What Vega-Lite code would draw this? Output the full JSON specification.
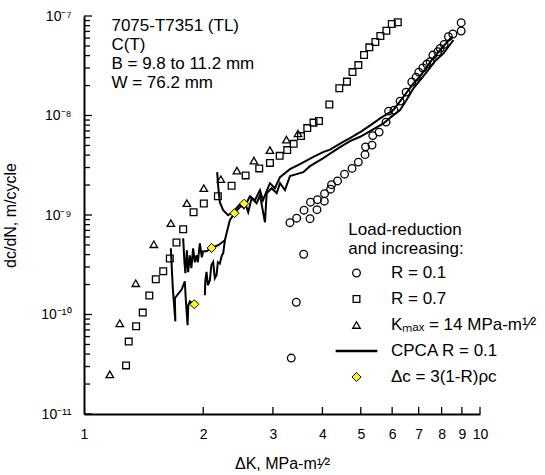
{
  "$schema": "https://vega.github.io/schema/vega-lite/v6.json",
  "width": 396,
  "height": 398,
  "autosize": {"type": "none"},
  "padding": {"left": 84, "top": 16, "right": 65, "bottom": 61},
  "background": "white",
  "config": {
    "view": {"stroke": null},
    "font": "Liberation Sans",
    "axis": {
      "domainColor": "black", "domainWidth": 2,
      "labelColor": "black", "titleColor": "black", "titleFontWeight": "normal",
      "labelFont": "Liberation Sans", "titleFont": "Liberation Sans",
      "labelFontSize": 14, "titleFontSize": 16, "grid": false, "ticks": false
    },
    "legend": {
      "orient": "none", "legendX": 264, "legendY": 248.5, "title": null,
      "labelFontSize": 17, "labelFont": "Liberation Sans", "labelColor": "black",
      "labelOffset": 26, "rowPadding": 8, "padding": 0, "labelLimit": 300
    }
  },
  "datasets": {
    "xticks": [
      {"dk": 2}, {"dk": 3}, {"dk": 4}, {"dk": 5}, {"dk": 6}, {"dk": 7}, {"dk": 8}, {"dk": 9}, {"dk": 10}
    ],
    "ymajor": [
      {"rate": 1e-11}, {"rate": 1e-10}, {"rate": 1e-9}, {"rate": 1e-8}, {"rate": 1e-7}
    ],
    "yminor": [
      {"rate": 2e-11}, {"rate": 3e-11}, {"rate": 4e-11}, {"rate": 5e-11}, {"rate": 6e-11}, {"rate": 7e-11}, {"rate": 8e-11}, {"rate": 9e-11},
      {"rate": 2e-10}, {"rate": 3e-10}, {"rate": 4e-10}, {"rate": 5e-10}, {"rate": 6e-10}, {"rate": 7e-10}, {"rate": 8e-10}, {"rate": 9e-10},
      {"rate": 2e-9}, {"rate": 3e-9}, {"rate": 4e-9}, {"rate": 5e-9}, {"rate": 6e-9}, {"rate": 7e-9}, {"rate": 8e-9}, {"rate": 9e-9},
      {"rate": 2e-8}, {"rate": 3e-8}, {"rate": 4e-8}, {"rate": 5e-8}, {"rate": 6e-8}, {"rate": 7e-8}, {"rate": 8e-8}, {"rate": 9e-8}
    ],
    "pts": [
      {"series": "R = 0.1", "dk": 3.337, "rate": 3.65e-11},
      {"series": "R = 0.1", "dk": 3.436, "rate": 1.327e-10},
      {"series": "R = 0.1", "dk": 3.587, "rate": 4.03e-10},
      {"series": "R = 0.1", "dk": 3.312, "rate": 8.37e-10},
      {"series": "R = 0.1", "dk": 3.444, "rate": 9.29e-10},
      {"series": "R = 0.1", "dk": 3.594, "rate": 1.118e-9},
      {"series": "R = 0.1", "dk": 3.722, "rate": 9.18e-10},
      {"series": "R = 0.1", "dk": 3.732, "rate": 1.345e-9},
      {"series": "R = 0.1", "dk": 3.876, "rate": 1.131e-9},
      {"series": "R = 0.1", "dk": 3.887, "rate": 1.425e-9},
      {"series": "R = 0.1", "dk": 4.045, "rate": 1.376e-9},
      {"series": "R = 0.1", "dk": 4.05, "rate": 1.638e-9},
      {"series": "R = 0.1", "dk": 4.194, "rate": 1.818e-9},
      {"series": "R = 0.1", "dk": 4.218, "rate": 2.017e-9},
      {"series": "R = 0.1", "dk": 4.368, "rate": 2.2e-9},
      {"series": "R = 0.1", "dk": 4.549, "rate": 2.57e-9},
      {"series": "R = 0.1", "dk": 4.752, "rate": 2.94e-9},
      {"series": "R = 0.1", "dk": 4.929, "rate": 3.4e-9},
      {"series": "R = 0.1", "dk": 5.125, "rate": 4.04e-9},
      {"series": "R = 0.1", "dk": 5.14, "rate": 4.84e-9},
      {"series": "R = 0.1", "dk": 5.338, "rate": 5.04e-9},
      {"series": "R = 0.1", "dk": 5.36, "rate": 6.28e-9},
      {"series": "R = 0.1", "dk": 5.562, "rate": 6.81e-9},
      {"series": "R = 0.1", "dk": 5.791, "rate": 8.58e-9},
      {"series": "R = 0.1", "dk": 5.877, "rate": 1.107e-8},
      {"series": "R = 0.1", "dk": 6.067, "rate": 1.133e-8},
      {"series": "R = 0.1", "dk": 6.284, "rate": 1.396e-8},
      {"series": "R = 0.1", "dk": 6.508, "rate": 1.719e-8},
      {"series": "R = 0.1", "dk": 6.727, "rate": 2.17e-8},
      {"series": "R = 0.1", "dk": 6.898, "rate": 2.43e-8},
      {"series": "R = 0.1", "dk": 7.007, "rate": 2.73e-8},
      {"series": "R = 0.1", "dk": 7.172, "rate": 3.0e-8},
      {"series": "R = 0.1", "dk": 7.341, "rate": 3.29e-8},
      {"series": "R = 0.1", "dk": 7.484, "rate": 3.47e-8},
      {"series": "R = 0.1", "dk": 7.602, "rate": 4.05e-8},
      {"series": "R = 0.1", "dk": 7.827, "rate": 4.37e-8},
      {"series": "R = 0.1", "dk": 7.932, "rate": 4.73e-8},
      {"series": "R = 0.1", "dk": 8.119, "rate": 5.19e-8},
      {"series": "R = 0.1", "dk": 8.325, "rate": 6.19e-8},
      {"series": "R = 0.1", "dk": 8.54, "rate": 6.59e-8},
      {"series": "R = 0.1", "dk": 8.963, "rate": 7.07e-8},
      {"series": "R = 0.1", "dk": 8.963, "rate": 8.56e-8},
      {"series": "R = 0.7", "dk": 1.277, "rate": 3.08e-11},
      {"series": "R = 0.7", "dk": 1.297, "rate": 5.34e-11},
      {"series": "R = 0.7", "dk": 1.354, "rate": 7.61e-11},
      {"series": "R = 0.7", "dk": 1.407, "rate": 1.045e-10},
      {"series": "R = 0.7", "dk": 1.462, "rate": 1.55e-10},
      {"series": "R = 0.7", "dk": 1.518, "rate": 2.26e-10},
      {"series": "R = 0.7", "dk": 1.585, "rate": 2.72e-10},
      {"series": "R = 0.7", "dk": 1.647, "rate": 3.65e-10},
      {"series": "R = 0.7", "dk": 1.712, "rate": 5.29e-10},
      {"series": "R = 0.7", "dk": 1.78, "rate": 7.2e-10},
      {"series": "R = 0.7", "dk": 1.891, "rate": 1.067e-9},
      {"series": "R = 0.7", "dk": 2.007, "rate": 1.305e-9},
      {"series": "R = 0.7", "dk": 2.178, "rate": 1.545e-9},
      {"series": "R = 0.7", "dk": 2.359, "rate": 1.97e-9},
      {"series": "R = 0.7", "dk": 2.559, "rate": 2.5e-9},
      {"series": "R = 0.7", "dk": 2.77, "rate": 2.94e-9},
      {"series": "R = 0.7", "dk": 2.948, "rate": 3.34e-9},
      {"series": "R = 0.7", "dk": 3.12, "rate": 3.93e-9},
      {"series": "R = 0.7", "dk": 3.26, "rate": 4.49e-9},
      {"series": "R = 0.7", "dk": 3.384, "rate": 5.19e-9},
      {"series": "R = 0.7", "dk": 3.531, "rate": 6.21e-9},
      {"series": "R = 0.7", "dk": 3.663, "rate": 7.47e-9},
      {"series": "R = 0.7", "dk": 3.798, "rate": 8.48e-9},
      {"series": "R = 0.7", "dk": 3.921, "rate": 8.82e-9},
      {"series": "R = 0.7", "dk": 4.165, "rate": 1.288e-8},
      {"series": "R = 0.7", "dk": 4.413, "rate": 1.878e-8},
      {"series": "R = 0.7", "dk": 4.613, "rate": 2.19e-8},
      {"series": "R = 0.7", "dk": 4.765, "rate": 2.73e-8},
      {"series": "R = 0.7", "dk": 4.929, "rate": 3.21e-8},
      {"series": "R = 0.7", "dk": 5.095, "rate": 4.05e-8},
      {"series": "R = 0.7", "dk": 5.255, "rate": 4.84e-8},
      {"series": "R = 0.7", "dk": 5.442, "rate": 5.48e-8},
      {"series": "R = 0.7", "dk": 5.603, "rate": 6.29e-8},
      {"series": "R = 0.7", "dk": 5.802, "rate": 7.11e-8},
      {"series": "R = 0.7", "dk": 5.987, "rate": 8.31e-8},
      {"series": "R = 0.7", "dk": 6.2, "rate": 8.64e-8},
      {"series": "Kₘₐₓ = 14 MPa-m¹⁄²", "dk": 1.162, "rate": 2.5e-11},
      {"series": "Kₘₐₓ = 14 MPa-m¹⁄²", "dk": 1.231, "rate": 8.16e-11},
      {"series": "Kₘₐₓ = 14 MPa-m¹⁄²", "dk": 1.351, "rate": 2.06e-10},
      {"series": "Kₘₐₓ = 14 MPa-m¹⁄²", "dk": 1.501, "rate": 5.08e-10},
      {"series": "Kₘₐₓ = 14 MPa-m¹⁄²", "dk": 1.657, "rate": 8.27e-10},
      {"series": "Kₘₐₓ = 14 MPa-m¹⁄²", "dk": 1.819, "rate": 1.315e-9},
      {"series": "Kₘₐₓ = 14 MPa-m¹⁄²", "dk": 2.007, "rate": 1.86e-9},
      {"series": "Kₘₐₓ = 14 MPa-m¹⁄²", "dk": 2.216, "rate": 2.29e-9},
      {"series": "Kₘₐₓ = 14 MPa-m¹⁄²", "dk": 2.433, "rate": 2.79e-9},
      {"series": "Kₘₐₓ = 14 MPa-m¹⁄²", "dk": 2.686, "rate": 3.52e-9},
      {"series": "Kₘₐₓ = 14 MPa-m¹⁄²", "dk": 2.948, "rate": 4.49e-9},
      {"series": "Kₘₐₓ = 14 MPa-m¹⁄²", "dk": 3.245, "rate": 5.72e-9},
      {"series": "Kₘₐₓ = 14 MPa-m¹⁄²", "dk": 3.47, "rate": 6.6e-9},
      {"series": "Δc = 3(1-R)ρc", "dk": 1.899, "rate": 1.267e-10},
      {"series": "Δc = 3(1-R)ρc", "dk": 2.1, "rate": 4.67e-10},
      {"series": "Δc = 3(1-R)ρc", "dk": 2.398, "rate": 1.042e-9},
      {"series": "Δc = 3(1-R)ρc", "dk": 2.537, "rate": 1.299e-9}
    ],
    "cpca": [
      {"seg": "A", "i": 0, "dk": 1.657, "rate": 4.63e-10},
      {"seg": "A", "i": 1, "dk": 1.667, "rate": 2.785e-10},
      {"seg": "A", "i": 2, "dk": 1.676, "rate": 1.835e-10},
      {"seg": "A", "i": 3, "dk": 1.691, "rate": 1.154e-10},
      {"seg": "A", "i": 4, "dk": 1.701, "rate": 8.54e-11},
      {"seg": "A", "i": 5, "dk": 1.696, "rate": 1.456e-10},
      {"seg": "A", "i": 6, "dk": 1.725, "rate": 1.596e-10},
      {"seg": "A", "i": 7, "dk": 1.766, "rate": 1.793e-10},
      {"seg": "A", "i": 8, "dk": 1.797, "rate": 2.158e-10},
      {"seg": "A", "i": 9, "dk": 1.808, "rate": 1.39e-10},
      {"seg": "A", "i": 10, "dk": 1.826, "rate": 7.79e-11},
      {"seg": "A", "i": 11, "dk": 1.834, "rate": 1.238e-10},
      {"seg": "A", "i": 12, "dk": 1.851, "rate": 1.358e-10},
      {"seg": "A", "i": 13, "dk": 1.894, "rate": 1.267e-10},
      {"seg": "B", "i": 0, "dk": 1.78, "rate": 5.84e-10},
      {"seg": "B", "i": 1, "dk": 1.792, "rate": 3.51e-10},
      {"seg": "B", "i": 2, "dk": 1.803, "rate": 2.6e-10},
      {"seg": "B", "i": 3, "dk": 1.819, "rate": 4.42e-10},
      {"seg": "B", "i": 4, "dk": 1.832, "rate": 2.66e-10},
      {"seg": "B", "i": 5, "dk": 1.851, "rate": 3.94e-10},
      {"seg": "B", "i": 6, "dk": 1.867, "rate": 2.92e-10},
      {"seg": "B", "i": 7, "dk": 1.886, "rate": 4.63e-10},
      {"seg": "B", "i": 8, "dk": 1.905, "rate": 3.35e-10},
      {"seg": "B", "i": 9, "dk": 1.924, "rate": 3.94e-10},
      {"seg": "B", "i": 10, "dk": 1.939, "rate": 3.35e-10},
      {"seg": "B", "i": 11, "dk": 1.961, "rate": 5.2e-10},
      {"seg": "B", "i": 12, "dk": 1.984, "rate": 3.76e-10},
      {"seg": "B", "i": 13, "dk": 1.999, "rate": 4.32e-10},
      {"seg": "B", "i": 14, "dk": 2.039, "rate": 4.32e-10},
      {"seg": "B", "i": 15, "dk": 2.1, "rate": 4.67e-10},
      {"seg": "B", "i": 16, "dk": 2.183, "rate": 4.97e-10},
      {"seg": "B", "i": 17, "dk": 2.269, "rate": 5.58e-10},
      {"seg": "B", "i": 18, "dk": 2.291, "rate": 6.56e-10},
      {"seg": "B", "i": 19, "dk": 2.335, "rate": 8.87e-10},
      {"seg": "B", "i": 20, "dk": 2.398, "rate": 1.042e-9},
      {"seg": "B", "i": 21, "dk": 2.476, "rate": 1.198e-9},
      {"seg": "B", "i": 22, "dk": 2.549, "rate": 1.345e-9},
      {"seg": "B", "i": 23, "dk": 2.598, "rate": 1.067e-9},
      {"seg": "B", "i": 24, "dk": 2.65, "rate": 1.476e-9},
      {"seg": "B", "i": 25, "dk": 2.729, "rate": 1.314e-9},
      {"seg": "B", "i": 26, "dk": 2.782, "rate": 1.582e-9},
      {"seg": "B", "i": 27, "dk": 2.864, "rate": 8.46e-10},
      {"seg": "B", "i": 28, "dk": 2.893, "rate": 1.657e-9},
      {"seg": "B", "i": 29, "dk": 2.978, "rate": 1.86e-9},
      {"seg": "B", "i": 30, "dk": 3.066, "rate": 1.657e-9},
      {"seg": "B", "i": 31, "dk": 3.126, "rate": 2.089e-9},
      {"seg": "B", "i": 32, "dk": 3.217, "rate": 1.777e-9},
      {"seg": "B", "i": 33, "dk": 3.312, "rate": 2.457e-9},
      {"seg": "B", "i": 34, "dk": 3.444, "rate": 2.573e-9},
      {"seg": "B", "i": 35, "dk": 3.579, "rate": 2.695e-9},
      {"seg": "B", "i": 36, "dk": 3.722, "rate": 3.096e-9},
      {"seg": "B", "i": 37, "dk": 3.869, "rate": 3.4e-9},
      {"seg": "B", "i": 38, "dk": 4.022, "rate": 3.73e-9},
      {"seg": "B", "i": 39, "dk": 4.181, "rate": 4.136e-9},
      {"seg": "B", "i": 40, "dk": 4.432, "rate": 4.81e-9},
      {"seg": "B", "i": 41, "dk": 4.697, "rate": 5.53e-9},
      {"seg": "B", "i": 42, "dk": 4.98, "rate": 6.11e-9},
      {"seg": "B", "i": 43, "dk": 5.279, "rate": 6.97e-9},
      {"seg": "B", "i": 44, "dk": 5.702, "rate": 8.33e-9},
      {"seg": "B", "i": 45, "dk": 5.998, "rate": 9.86e-9},
      {"seg": "B", "i": 46, "dk": 6.284, "rate": 1.133e-8},
      {"seg": "B", "i": 47, "dk": 6.546, "rate": 1.462e-8},
      {"seg": "B", "i": 48, "dk": 6.79, "rate": 1.874e-8},
      {"seg": "B", "i": 49, "dk": 7.061, "rate": 2.27e-8},
      {"seg": "B", "i": 50, "dk": 7.341, "rate": 2.75e-8},
      {"seg": "B", "i": 51, "dk": 7.704, "rate": 3.53e-8},
      {"seg": "B", "i": 52, "dk": 8.087, "rate": 4.21e-8},
      {"seg": "B", "i": 53, "dk": 8.57, "rate": 5.74e-8},
      {"seg": "C", "i": 0, "dk": 2.019, "rate": 1.56e-10},
      {"seg": "C", "i": 1, "dk": 2.025, "rate": 2.21e-10},
      {"seg": "C", "i": 2, "dk": 2.039, "rate": 2.68e-10},
      {"seg": "C", "i": 3, "dk": 2.055, "rate": 1.967e-10},
      {"seg": "C", "i": 4, "dk": 2.079, "rate": 2.21e-10},
      {"seg": "C", "i": 5, "dk": 2.097, "rate": 3.13e-10},
      {"seg": "C", "i": 6, "dk": 2.119, "rate": 3.37e-10},
      {"seg": "C", "i": 7, "dk": 2.14, "rate": 2.31e-10},
      {"seg": "C", "i": 8, "dk": 2.161, "rate": 2.48e-10},
      {"seg": "C", "i": 9, "dk": 2.178, "rate": 3.35e-10},
      {"seg": "C", "i": 10, "dk": 2.203, "rate": 3.25e-10},
      {"seg": "C", "i": 11, "dk": 2.229, "rate": 3.94e-10},
      {"seg": "C", "i": 12, "dk": 2.246, "rate": 4.1e-10},
      {"seg": "C", "i": 13, "dk": 2.269, "rate": 5.58e-10},
      {"seg": "D", "i": 0, "dk": 2.169, "rate": 2.695e-9},
      {"seg": "D", "i": 1, "dk": 2.183, "rate": 1.905e-9},
      {"seg": "D", "i": 2, "dk": 2.203, "rate": 1.345e-9},
      {"seg": "D", "i": 3, "dk": 2.246, "rate": 1.118e-9},
      {"seg": "D", "i": 4, "dk": 2.312, "rate": 9.95e-10},
      {"seg": "D", "i": 5, "dk": 2.39, "rate": 1.092e-9},
      {"seg": "D", "i": 6, "dk": 2.476, "rate": 1.284e-9},
      {"seg": "D", "i": 7, "dk": 2.534, "rate": 1.171e-9},
      {"seg": "D", "i": 8, "dk": 2.624, "rate": 1.545e-9},
      {"seg": "D", "i": 9, "dk": 2.702, "rate": 1.409e-9},
      {"seg": "D", "i": 10, "dk": 2.782, "rate": 1.777e-9},
      {"seg": "D", "i": 11, "dk": 2.831, "rate": 1.409e-9},
      {"seg": "D", "i": 12, "dk": 2.948, "rate": 2.089e-9},
      {"seg": "D", "i": 13, "dk": 3.035, "rate": 1.86e-9},
      {"seg": "D", "i": 14, "dk": 3.126, "rate": 2.4e-9},
      {"seg": "D", "i": 15, "dk": 3.312, "rate": 2.89e-9},
      {"seg": "D", "i": 16, "dk": 3.511, "rate": 3.24e-9},
      {"seg": "D", "i": 17, "dk": 3.786, "rate": 3.82e-9},
      {"seg": "D", "i": 18, "dk": 4.014, "rate": 4.28e-9},
      {"seg": "D", "i": 19, "dk": 4.181, "rate": 4.54e-9},
      {"seg": "D", "i": 20, "dk": 4.475, "rate": 5.34e-9},
      {"seg": "D", "i": 21, "dk": 4.697, "rate": 5.93e-9},
      {"seg": "D", "i": 22, "dk": 5.029, "rate": 6.97e-9},
      {"seg": "D", "i": 23, "dk": 5.338, "rate": 8.2e-9},
      {"seg": "D", "i": 24, "dk": 5.594, "rate": 9.35e-9},
      {"seg": "D", "i": 25, "dk": 6.043, "rate": 1.133e-8},
      {"seg": "D", "i": 26, "dk": 6.407, "rate": 1.542e-8},
      {"seg": "D", "i": 27, "dk": 6.79, "rate": 2.1e-8},
      {"seg": "D", "i": 28, "dk": 7.061, "rate": 2.49e-8},
      {"seg": "D", "i": 29, "dk": 7.341, "rate": 3.09e-8},
      {"seg": "D", "i": 30, "dk": 7.615, "rate": 3.78e-8},
      {"seg": "D", "i": 31, "dk": 7.932, "rate": 4.55e-8},
      {"seg": "D", "i": 32, "dk": 8.492, "rate": 6.19e-8}
    ]
  },
  "layer": [
    {
      "data": {"name": "cpca"},
      "mark": {"type": "line", "color": "black", "strokeWidth": 2},
      "encoding": {
        "x": {
          "field": "dk", "type": "quantitative",
          "scale": {"type": "log", "domain": [1, 10], "nice": false},
          "axis": {
            "values": [1, 2, 3, 4, 5, 6, 7, 8, 9, 10], "format": "d",
            "title": "ΔK, MPa-m¹⁄²", "labelFlush": false, "labelOverlap": false,
            "ticks": false, "labelPadding": 13, "titlePadding": 14
          }
        },
        "y": {
          "field": "rate", "type": "quantitative",
          "scale": {"type": "log", "domain": [1e-11, 1e-7], "nice": false},
          "axis": {
            "values": [1e-11, 1e-10, 1e-9, 1e-8, 1e-7],
            "labelExpr": "'10' + ['⁻¹¹','⁻¹⁰','⁻⁹','⁻⁸','⁻⁷'][round(log(datum.value)/LN10) + 11]",
            "title": "dc/dN, m/cycle", "labelOverlap": false, "labelFlush": false,
            "ticks": false, "labelPadding": 13, "titlePadding": 22
          }
        },
        "detail": {"field": "seg"},
        "order": {"field": "i"}
      }
    },
    {
      "data": {"name": "xticks"},
      "mark": {"type": "rule", "color": "black", "strokeWidth": 1.3},
      "encoding": {
        "x": {"field": "dk", "type": "quantitative"},
        "y": {"datum": 1e-11},
        "y2": {"datum": 1.176e-11}
      }
    },
    {
      "data": {"name": "yminor"},
      "mark": {"type": "rule", "color": "black", "strokeWidth": 1.3},
      "encoding": {
        "y": {"field": "rate", "type": "quantitative"},
        "x": {"datum": 1},
        "x2": {"datum": 1.0355}
      }
    },
    {
      "data": {"name": "ymajor"},
      "mark": {"type": "rule", "color": "black", "strokeWidth": 1.3},
      "encoding": {
        "y": {"field": "rate", "type": "quantitative"},
        "x": {"datum": 1},
        "x2": {"datum": 1.0476}
      }
    },
    {
      "data": {"name": "pts"},
      "mark": {"type": "point", "filled": true, "opacity": 1},
      "encoding": {
        "x": {"field": "dk", "type": "quantitative"},
        "y": {"field": "rate", "type": "quantitative"},
        "shape": {
          "field": "series", "type": "nominal",
          "scale": {"domain": ["R = 0.1", "R = 0.7", "Kₘₐₓ = 14 MPa-m¹⁄²", "CPCA  R = 0.1", "Δc = 3(1-R)ρc"],
                    "range": ["circle", "square", "triangle-up", "M-5.9,0H5.9", "diamond"]}
        },
        "fill": {
          "field": "series", "type": "nominal",
          "scale": {"domain": ["R = 0.1", "R = 0.7", "Kₘₐₓ = 14 MPa-m¹⁄²", "CPCA  R = 0.1", "Δc = 3(1-R)ρc"],
                    "range": ["transparent", "transparent", "transparent", "transparent", "#ffff00"]}
        },
        "stroke": {
          "field": "series", "type": "nominal",
          "scale": {"domain": ["R = 0.1", "R = 0.7", "Kₘₐₓ = 14 MPa-m¹⁄²", "CPCA  R = 0.1", "Δc = 3(1-R)ρc"],
                    "range": ["black", "black", "black", "black", "black"]}
        },
        "size": {
          "field": "series", "type": "nominal",
          "scale": {"type": "ordinal", "domain": ["R = 0.1", "R = 0.7", "Kₘₐₓ = 14 MPa-m¹⁄²", "CPCA  R = 0.1", "Δc = 3(1-R)ρc"],
                    "range": [58, 45, 56, 50, 81]}
        },
        "strokeWidth": {
          "field": "series", "type": "nominal",
          "scale": {"type": "ordinal", "domain": ["R = 0.1", "R = 0.7", "Kₘₐₓ = 14 MPa-m¹⁄²", "CPCA  R = 0.1", "Δc = 3(1-R)ρc"],
                    "range": [1.3, 1.3, 1.3, 2.5, 1]}
        }
      }
    },
    {
      "data": {"values": [{}]},
      "mark": {"type": "text", "align": "left", "baseline": "alphabetic", "fontSize": 17, "lineHeight": 19, "font": "Liberation Sans", "color": "black"},
      "encoding": {
        "x": {"datum": 1.173},
        "y": {"datum": 7.11e-8},
        "text": {"value": ["7075-T7351 (TL)", "C(T)", "B = 9.8 to 11.2 mm", "W = 76.2 mm"]}
      }
    },
    {
      "data": {"values": [{}]},
      "mark": {"type": "text", "align": "left", "baseline": "alphabetic", "fontSize": 17, "lineHeight": 18.5, "font": "Liberation Sans", "color": "black"},
      "encoding": {
        "x": {"datum": 4.651},
        "y": {"datum": 6.26e-10},
        "text": {"value": ["Load-reduction", "and increasing:"]}
      }
    }
  ]
}
